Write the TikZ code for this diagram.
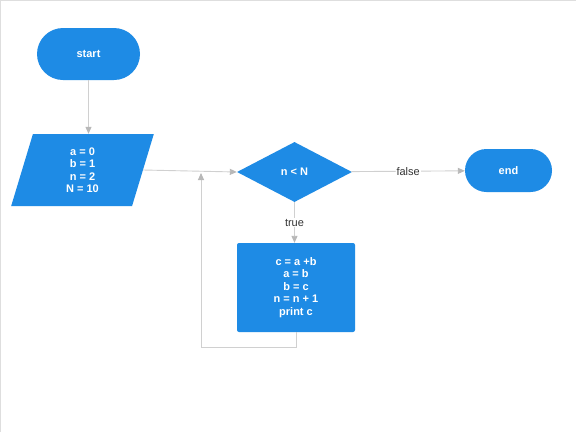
\documentclass[tikz,border=0pt]{standalone}
\usepackage{fontspec}
\setmainfont{Liberation Sans}
\usetikzlibrary{shapes.geometric,arrows.meta}
\definecolor{flowblue}{RGB}{30,139,229}
\definecolor{flowline}{RGB}{208,208,208}
\definecolor{flowtip}{RGB}{184,184,184}

\begin{document}
\begin{tikzpicture}[x=1pt,y=-1pt,
	block/.style={fill=flowblue, text=white, inner sep=0pt, align=center,
		font=\bfseries\fontsize{11}{12.5}\selectfont},
	terminal/.style={block, rectangle, rounded corners=#1},
	flow/.style={draw=flowline, line width=0.9pt,
		-{Triangle[length=7pt,width=6pt,color=flowtip]}},
	lbl/.style={fill=white, text=black!80, inner sep=1pt,
		font=\fontsize{11}{13}\selectfont}]
		%% Page frame, everything is in pixels of the 576x432 sheet
		\useasboundingbox (0,0) rectangle (576,432);
		\fill[white] (0,0) rectangle (576,432);
		\draw[black!13, line width=2pt] (0,0) -- (576,0);
		\draw[black!13, line width=1pt] (0,0) -- (0,432);

		%% Blocks
		\node[terminal=26pt, minimum width=103pt, minimum height=52pt] (start) at (88.5,54) {start};
		\node[block, trapezium, trapezium left angle=81, trapezium right angle=99,
			trapezium stretches=true, minimum width=143pt, minimum height=72pt]
			(init) at (82.5,170) {a = 0\\b = 1\\n = 2\\N = 10};
		\node[block, diamond, aspect=1.9, minimum width=115pt, minimum height=60pt]
			(cond) at (294.5,172) {n < N};
		\node[terminal=21.5pt, minimum width=87pt, minimum height=43pt] (fin) at (508.5,170.5) {end};
		\node[block, rectangle, rounded corners=2pt, minimum width=118pt, minimum height=89pt]
			(body) at (296,287.5) {c = a +b\\a = b\\b = c\\n = n + 1\\print c};

		%% Connectors
		\draw[flow] (start) -- (start |- init.north);
		\draw[flow] (init.east) -- (cond.west);
		\draw[flow] (cond) -- node[lbl]{false} (fin);
		\draw[flow] (cond.south) -- node[lbl]{true} (cond.south |- body.north);

		% loop back onto the entry line
		\coordinate (join) at (201,172);
		\draw[flow, shorten >=1pt] (body.south) -- (body.south |- 0,347) -| (join);
	\end{tikzpicture}
\end{document}
